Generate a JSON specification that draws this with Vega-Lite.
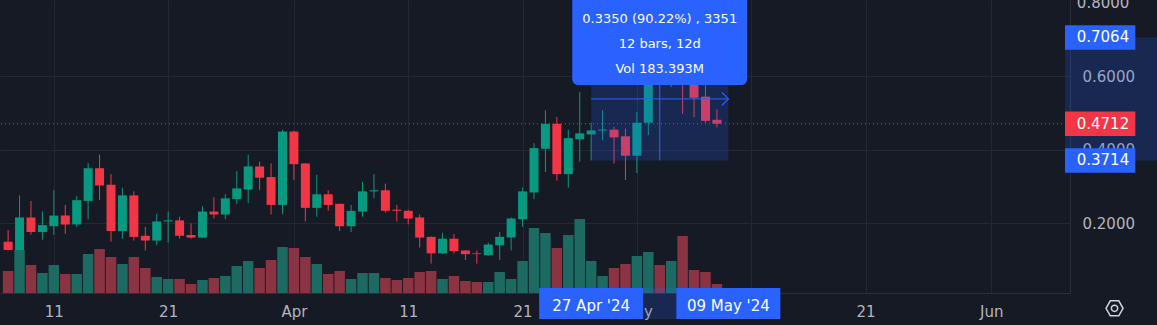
{
  "$schema": "https://vega.github.io/schema/vega-lite/v6.json",
  "width": 1070,
  "height": 293,
  "autosize": {"type": "none"},
  "padding": {"left": 0, "top": 0, "right": 87, "bottom": 32},
  "background": "#161a25",
  "config": {
    "view": {"stroke": null},
    "font": "DejaVu Sans",
    "axis": {"labelFont": "DejaVu Sans", "labelFontSize": 15, "labelColor": "#b2b5be", "ticks": false, "tickSize": 0, "domainColor": "#2a2e39", "gridColor": "#242832", "labelOverlap": false, "labelFlush": false, "labelBound": false}
  },
  "datasets": {
    "candles": [
      {"d":"2024-03-07","o":0.150,"h":0.182,"l":0.126,"c":0.127,"v":11.50},
      {"d":"2024-03-08","o":0.127,"h":0.276,"l":0.125,"c":0.216,"v":22.47},
      {"d":"2024-03-09","o":0.216,"h":0.261,"l":0.169,"c":0.176,"v":14.63},
      {"d":"2024-03-10","o":0.176,"h":0.232,"l":0.155,"c":0.195,"v":10.45},
      {"d":"2024-03-11","o":0.192,"h":0.290,"l":0.169,"c":0.221,"v":14.63},
      {"d":"2024-03-12","o":0.221,"h":0.250,"l":0.171,"c":0.197,"v":9.93},
      {"d":"2024-03-13","o":0.197,"h":0.274,"l":0.190,"c":0.263,"v":9.93},
      {"d":"2024-03-14","o":0.261,"h":0.364,"l":0.211,"c":0.350,"v":20.38},
      {"d":"2024-03-15","o":0.350,"h":0.387,"l":0.263,"c":0.303,"v":22.99},
      {"d":"2024-03-16","o":0.305,"h":0.334,"l":0.150,"c":0.179,"v":18.81},
      {"d":"2024-03-17","o":0.179,"h":0.297,"l":0.158,"c":0.276,"v":15.15},
      {"d":"2024-03-18","o":0.276,"h":0.287,"l":0.153,"c":0.163,"v":18.81},
      {"d":"2024-03-19","o":0.166,"h":0.190,"l":0.126,"c":0.153,"v":13.06},
      {"d":"2024-03-20","o":0.153,"h":0.226,"l":0.140,"c":0.205,"v":8.36},
      {"d":"2024-03-21","o":0.205,"h":0.232,"l":0.147,"c":0.208,"v":7.32},
      {"d":"2024-03-22","o":0.208,"h":0.218,"l":0.158,"c":0.166,"v":7.32},
      {"d":"2024-03-23","o":0.168,"h":0.200,"l":0.158,"c":0.161,"v":4.70},
      {"d":"2024-03-24","o":0.161,"h":0.247,"l":0.160,"c":0.232,"v":6.79},
      {"d":"2024-03-25","o":0.232,"h":0.271,"l":0.213,"c":0.224,"v":7.84},
      {"d":"2024-03-26","o":0.224,"h":0.279,"l":0.211,"c":0.268,"v":8.88},
      {"d":"2024-03-27","o":0.266,"h":0.342,"l":0.253,"c":0.295,"v":14.11},
      {"d":"2024-03-28","o":0.292,"h":0.387,"l":0.255,"c":0.355,"v":16.72},
      {"d":"2024-03-29","o":0.355,"h":0.368,"l":0.290,"c":0.324,"v":13.06},
      {"d":"2024-03-30","o":0.326,"h":0.363,"l":0.224,"c":0.250,"v":17.24},
      {"d":"2024-03-31","o":0.250,"h":0.455,"l":0.226,"c":0.450,"v":24.04},
      {"d":"2024-04-01","o":0.450,"h":0.452,"l":0.318,"c":0.361,"v":23.51},
      {"d":"2024-04-02","o":0.363,"h":0.364,"l":0.205,"c":0.242,"v":18.81},
      {"d":"2024-04-03","o":0.242,"h":0.332,"l":0.218,"c":0.279,"v":15.15},
      {"d":"2024-04-04","o":0.279,"h":0.290,"l":0.234,"c":0.250,"v":9.93},
      {"d":"2024-04-05","o":0.253,"h":0.254,"l":0.179,"c":0.192,"v":11.50},
      {"d":"2024-04-06","o":0.192,"h":0.250,"l":0.176,"c":0.234,"v":7.32},
      {"d":"2024-04-07","o":0.232,"h":0.313,"l":0.218,"c":0.287,"v":10.45},
      {"d":"2024-04-08","o":0.287,"h":0.334,"l":0.268,"c":0.290,"v":10.45},
      {"d":"2024-04-09","o":0.290,"h":0.308,"l":0.229,"c":0.234,"v":7.84},
      {"d":"2024-04-10","o":0.237,"h":0.250,"l":0.205,"c":0.234,"v":6.79},
      {"d":"2024-04-11","o":0.234,"h":0.237,"l":0.197,"c":0.213,"v":7.84},
      {"d":"2024-04-12","o":0.216,"h":0.224,"l":0.134,"c":0.161,"v":10.97},
      {"d":"2024-04-13","o":0.163,"h":0.164,"l":0.090,"c":0.118,"v":11.50},
      {"d":"2024-04-14","o":0.118,"h":0.174,"l":0.116,"c":0.158,"v":7.32},
      {"d":"2024-04-15","o":0.158,"h":0.171,"l":0.118,"c":0.124,"v":8.88},
      {"d":"2024-04-16","o":0.126,"h":0.127,"l":0.100,"c":0.116,"v":6.27},
      {"d":"2024-04-17","o":0.118,"h":0.126,"l":0.090,"c":0.116,"v":5.75},
      {"d":"2024-04-18","o":0.113,"h":0.147,"l":0.111,"c":0.142,"v":5.75},
      {"d":"2024-04-19","o":0.140,"h":0.176,"l":0.100,"c":0.163,"v":10.97},
      {"d":"2024-04-20","o":0.161,"h":0.216,"l":0.126,"c":0.213,"v":7.32},
      {"d":"2024-04-21","o":0.211,"h":0.297,"l":0.190,"c":0.287,"v":16.72},
      {"d":"2024-04-22","o":0.284,"h":0.418,"l":0.266,"c":0.405,"v":33.96},
      {"d":"2024-04-23","o":0.403,"h":0.508,"l":0.340,"c":0.471,"v":31.35},
      {"d":"2024-04-24","o":0.471,"h":0.490,"l":0.316,"c":0.334,"v":23.51},
      {"d":"2024-04-25","o":0.334,"h":0.455,"l":0.297,"c":0.432,"v":30.31},
      {"d":"2024-04-26","o":0.429,"h":0.558,"l":0.368,"c":0.445,"v":38.67},
      {"d":"2024-04-27","o":0.442,"h":0.474,"l":0.3714,"c":0.453,"v":16.72},
      {"d":"2024-04-28","o":0.4526,"h":0.508,"l":0.426,"c":0.4553,"v":8.88},
      {"d":"2024-04-29","o":0.455,"h":0.463,"l":0.363,"c":0.434,"v":13.06},
      {"d":"2024-04-30","o":0.437,"h":0.458,"l":0.318,"c":0.384,"v":15.15},
      {"d":"2024-05-01","o":0.384,"h":0.503,"l":0.337,"c":0.474,"v":19.33},
      {"d":"2024-05-02","o":0.474,"h":0.7064,"l":0.440,"c":0.665,"v":21.42},
      {"d":"2024-05-03","o":0.665,"h":0.700,"l":0.600,"c":0.625,"v":14.63},
      {"d":"2024-05-04","o":0.625,"h":0.680,"l":0.571,"c":0.650,"v":16.72},
      {"d":"2024-05-05","o":0.650,"h":0.670,"l":0.498,"c":0.600,"v":29.78},
      {"d":"2024-05-06","o":0.600,"h":0.620,"l":0.489,"c":0.542,"v":12.02},
      {"d":"2024-05-07","o":0.545,"h":0.576,"l":0.474,"c":0.479,"v":10.97},
      {"d":"2024-05-08","o":0.482,"h":0.511,"l":0.461,"c":0.4712,"v":4.70}
    ],
    "ruler": [
      {"d":"2024-04-27","d2":"2024-05-09","dm":"2024-05-03","low":0.3714,"high":0.7064,"mid":0.5389,"lines":["0.3350 (90.22%) , 3351","12 bars, 12d","Vol 183.393M"]}
    ],
    "last": [{"price": 0.4712}],
    "priceTags": [
      {"price": 0.7064, "label": "0.7064", "kind": "ruler"},
      {"price": 0.4712, "label": "0.4712", "kind": "last"},
      {"price": 0.3714, "label": "0.3714", "kind": "ruler"}
    ],
    "timeTags": [
      {"d": "2024-04-27", "label": "27 Apr '24"},
      {"d": "2024-05-09", "label": "09 May '24"}
    ],
    "topTick": [{"price": 0.8, "label": "0.8000"}]
  },
  "layer": [
    {
      "data": {"name": "candles"},
      "mark": {"type": "bar", "width": 10.5, "clip": true},
      "encoding": {
        "x": {"field": "d", "type": "temporal", "title": null,
              "scale": {"type": "utc", "nice": false, "domain": [{"year": 2024, "month": 3, "date": 6, "hours": 17, "minutes": 28, "utc": true}, {"year": 2024, "month": 6, "date": 7, "hours": 10, "minutes": 45, "utc": true}]},
              "axis": {"title": null, "orient": "bottom", "grid": true, "labelBaseline": "middle", "labelPadding": 18,
                       "values": [{"year": 2024, "month": 3, "date": 11, "utc": true}, {"year": 2024, "month": 3, "date": 21, "utc": true}, {"year": 2024, "month": 4, "date": 1, "utc": true}, {"year": 2024, "month": 4, "date": 11, "utc": true}, {"year": 2024, "month": 4, "date": 21, "utc": true}, {"year": 2024, "month": 5, "date": 1, "utc": true}, {"year": 2024, "month": 5, "date": 11, "utc": true}, {"year": 2024, "month": 5, "date": 21, "utc": true}, {"year": 2024, "month": 6, "date": 1, "utc": true}],
                       "labelExpr": "utcFormat(datum.value, '%m-%d') === '05-11' ? '' : (utcFormat(datum.value, '%d') === '01' ? utcFormat(datum.value, '%b') : utcFormat(datum.value, '%d'))"}},
        "y": {"field": "v", "type": "quantitative", "scale": {"domain": [0, 153.1], "nice": false, "zero": true}, "axis": null},
        "color": {"condition": {"test": "datum.c >= datum.o", "value": "#1c6a61"}, "value": "#8a3443"}
      }
    },
    {
      "layer": [
        {
          "data": {"name": "candles"},
          "mark": {"type": "rule", "strokeWidth": 1, "clip": true},
          "encoding": {
            "x": {"field": "d", "type": "temporal", "title": null},
            "y": {"field": "l", "type": "quantitative", "title": null,
                  "scale": {"domain": [0.02368, 0.79474], "nice": false, "zero": false},
                  "axis": {"title": null, "orient": "right", "grid": true, "values": [0.2, 0.4, 0.6], "format": ".4f", "labelAlign": "left", "labelBaseline": "middle", "labelPadding": 12}},
            "y2": {"field": "h"},
            "color": {"condition": {"test": "datum.c >= datum.o", "value": "#089981"}, "value": "#f23645"}
          }
        },
        {
          "data": {"name": "candles"},
          "mark": {"type": "bar", "width": 9, "clip": true},
          "encoding": {
            "x": {"field": "d", "type": "temporal", "title": null},
            "y": {"field": "o", "type": "quantitative", "title": null},
            "y2": {"field": "c"},
            "color": {"condition": {"test": "datum.c >= datum.o", "value": "#089981"}, "value": "#f23645"}
          }
        },
        {
          "data": {"name": "topTick"},
          "mark": {"type": "text", "color": "#b2b5be", "font": "DejaVu Sans", "fontSize": 15, "align": "left", "baseline": "middle", "clip": false},
          "encoding": {
            "x": {"datum": {"year": 2024, "month": 6, "date": 8, "hours": 11, "minutes": 40, "utc": true}, "type": "temporal"},
            "y": {"field": "price", "type": "quantitative", "title": null},
            "text": {"field": "label"}
          }
        },
        {
          "data": {"name": "last"},
          "mark": {"type": "rule", "color": "#f23645", "strokeWidth": 1, "strokeDash": [1, 3], "clip": true},
          "encoding": {
            "y": {"field": "price", "type": "quantitative", "title": null}
          }
        },
        {
          "data": {"name": "ruler"},
          "mark": {"type": "rect", "color": "#2962ff", "opacity": 0.2, "clip": true},
          "encoding": {
            "x": {"field": "d", "type": "temporal", "title": null},
            "x2": {"field": "d2"},
            "y": {"field": "low", "type": "quantitative", "title": null},
            "y2": {"field": "high"}
          }
        },
        {
          "data": {"name": "ruler"},
          "mark": {"type": "rule", "color": "#2962ff", "strokeWidth": 1, "clip": true},
          "encoding": {
            "x": {"field": "d", "type": "temporal", "title": null},
            "x2": {"field": "d2"},
            "y": {"field": "mid", "type": "quantitative", "title": null}
          }
        },
        {
          "data": {"name": "ruler"},
          "mark": {"type": "rule", "color": "#2962ff", "strokeWidth": 1, "clip": true},
          "encoding": {
            "x": {"field": "dm", "type": "temporal", "title": null},
            "y": {"field": "low", "type": "quantitative", "title": null},
            "y2": {"field": "high"}
          }
        },
        {
          "data": {"name": "ruler"},
          "mark": {"type": "point", "shape": "M-1,-1L0,0L-1,1", "filled": false, "stroke": "#2962ff", "strokeWidth": 1.3, "size": 169, "opacity": 1, "clip": true},
          "encoding": {
            "x": {"field": "d2", "type": "temporal", "title": null},
            "y": {"field": "mid", "type": "quantitative", "title": null}
          }
        },
        {
          "data": {"name": "ruler"},
          "mark": {"type": "bar", "color": "#2962ff", "width": 175, "cornerRadius": 6, "clip": true},
          "encoding": {
            "x": {"field": "dm", "type": "temporal", "title": null},
            "y": {"datum": 0.577},
            "y2": {"datum": 0.9}
          }
        },
        {
          "data": {"name": "ruler"},
          "mark": {"type": "text", "color": "#ffffff", "font": "DejaVu Sans", "fontSize": 13, "lineHeight": 25, "align": "center", "baseline": "middle"},
          "encoding": {
            "x": {"field": "dm", "type": "temporal", "title": null},
            "y": {"datum": 0.7579},
            "text": {"field": "lines"}
          }
        },
        {
          "data": {"name": "ruler"},
          "mark": {"type": "rect", "color": "#2962ff", "opacity": 0.2, "clip": false},
          "encoding": {
            "x": {"datum": {"year": 2024, "month": 6, "date": 7, "hours": 10, "minutes": 45, "utc": true}, "type": "temporal"},
            "x2": {"datum": {"year": 2024, "month": 6, "date": 16, "utc": true}},
            "y": {"field": "low", "type": "quantitative", "title": null},
            "y2": {"field": "high"}
          }
        },
        {
          "data": {"name": "ruler"},
          "mark": {"type": "rect", "color": "#2962ff", "opacity": 0.2, "clip": false},
          "encoding": {
            "x": {"field": "d", "type": "temporal", "title": null},
            "x2": {"field": "d2"},
            "y": {"datum": -0.0605},
            "y2": {"datum": 0.02368}
          }
        },
        {
          "data": {"name": "priceTags"},
          "mark": {"type": "bar", "height": 24.5, "clip": false},
          "encoding": {
            "x": {"datum": {"year": 2024, "month": 6, "date": 7, "hours": 10, "minutes": 45, "utc": true}, "type": "temporal"},
            "x2": {"datum": {"year": 2024, "month": 6, "date": 13, "hours": 14, "minutes": 25, "utc": true}},
            "y": {"field": "price", "type": "quantitative", "title": null},
            "color": {"condition": {"test": "datum.kind === 'last'", "value": "#f23645"}, "value": "#2962ff"}
          }
        },
        {
          "data": {"name": "priceTags"},
          "mark": {"type": "text", "color": "#ffffff", "font": "DejaVu Sans", "fontSize": 15, "align": "center", "baseline": "middle"},
          "encoding": {
            "x": {"datum": {"year": 2024, "month": 6, "date": 10, "hours": 18, "minutes": 24, "utc": true}, "type": "temporal"},
            "y": {"field": "price", "type": "quantitative", "title": null},
            "text": {"field": "label"}
          }
        },
        {
          "data": {"name": "timeTags"},
          "mark": {"type": "bar", "color": "#2962ff", "width": 104, "clip": false},
          "encoding": {
            "x": {"field": "d", "type": "temporal", "title": null},
            "y": {"datum": -0.0605},
            "y2": {"datum": 0.02368}
          }
        },
        {
          "data": {"name": "timeTags"},
          "mark": {"type": "text", "color": "#ffffff", "font": "DejaVu Sans", "fontSize": 15, "align": "center", "baseline": "middle"},
          "encoding": {
            "x": {"field": "d", "type": "temporal", "title": null},
            "y": {"datum": -0.025},
            "text": {"field": "label"}
          }
        },
        {
          "data": {"values": [{}]},
          "mark": {"type": "point", "shape": "M-1,0L-0.5,-0.88L0.5,-0.88L1,0L0.5,0.88L-0.5,0.88Z", "filled": false, "stroke": "#d1d4dc", "strokeWidth": 1.5, "size": 290, "opacity": 1},
          "encoding": {
            "x": {"datum": {"year": 2024, "month": 6, "date": 11, "hours": 18, "minutes": 45, "utc": true}, "type": "temporal"},
            "y": {"datum": -0.0316}
          }
        },
        {
          "data": {"values": [{}]},
          "mark": {"type": "point", "shape": "circle", "filled": false, "stroke": "#d1d4dc", "strokeWidth": 1.5, "size": 40, "opacity": 1},
          "encoding": {
            "x": {"datum": {"year": 2024, "month": 6, "date": 11, "hours": 18, "minutes": 45, "utc": true}, "type": "temporal"},
            "y": {"datum": -0.0316}
          }
        }
      ]
    }
  ],
  "resolve": {"scale": {"y": "independent"}}
}
